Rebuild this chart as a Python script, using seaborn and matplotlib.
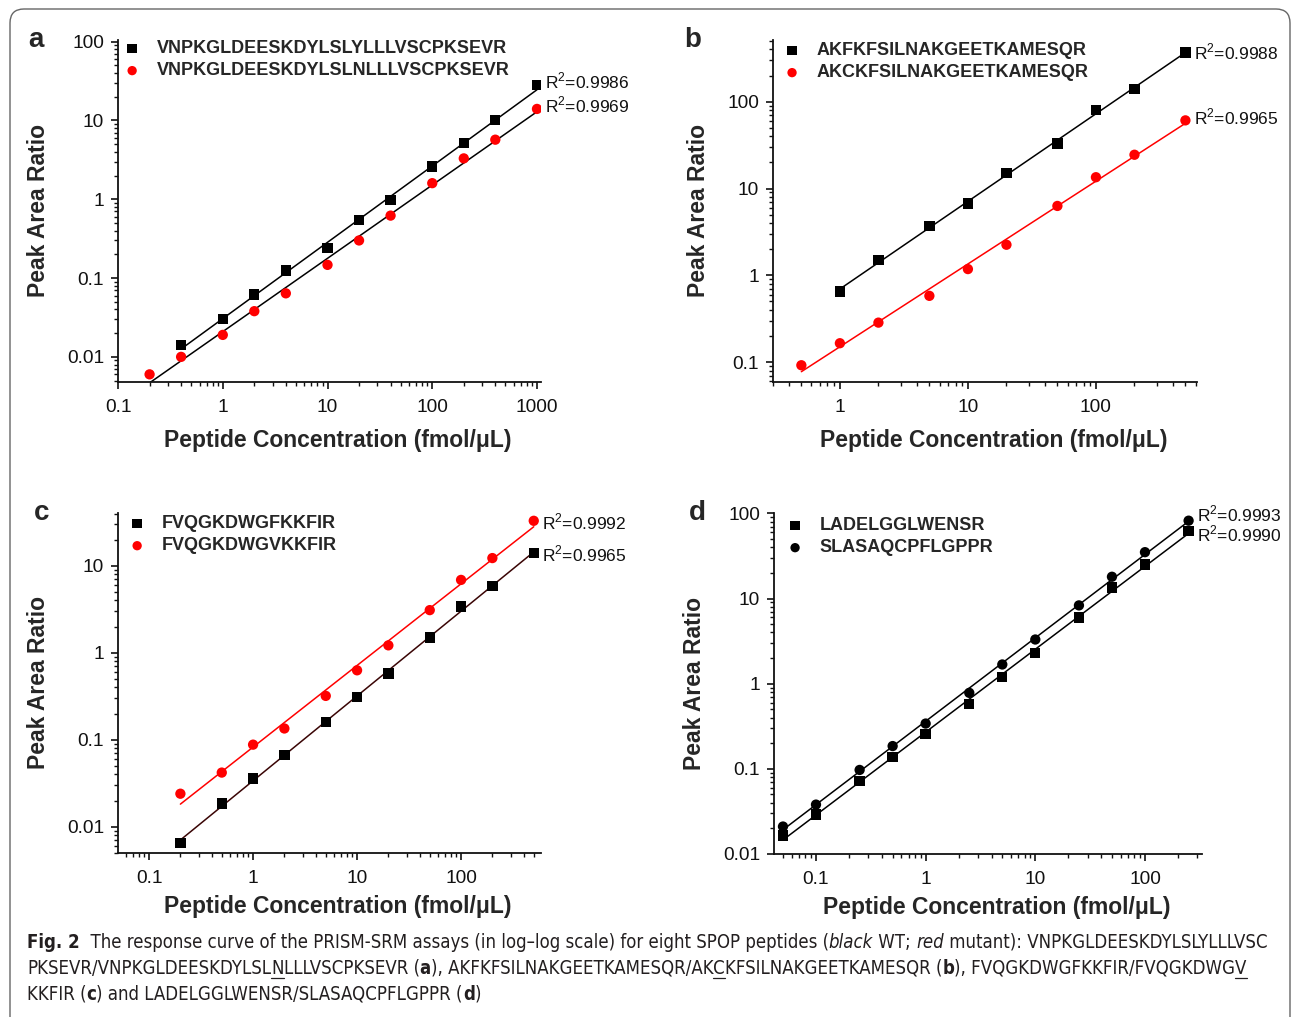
import numpy as np
import pandas as pd
import seaborn as sns
import matplotlib.pyplot as plt
from matplotlib import font_manager
from matplotlib.ticker import FuncFormatter, NullFormatter, LogLocator
from matplotlib.patches import FancyBboxPatch

# ---- data ----
# panel a
a_x_wt = [0.4, 1, 2, 4, 10, 20, 40, 100, 200, 400, 1000]
a_y_wt = [0.014, 0.030, 0.062, 0.125, 0.24, 0.54, 0.97, 2.6, 5.2, 10.1, 28]
a_x_mut = [0.2, 0.4, 1, 2, 4, 10, 20, 40, 100, 200, 400, 1000]
a_y_mut = [0.006, 0.010, 0.019, 0.038, 0.064, 0.147, 0.30, 0.62, 1.6, 3.3, 5.7, 14]
a_names = ["VNPKGLDEESKDYLSLYLLLVSCPKSEVR", "VNPKGLDEESKDYLSLNLLLVSCPKSEVR"]
a_r2 = ["0.9986", "0.9969"]

# panel b
b_x_wt = [1, 2, 5, 10, 20, 50, 100, 200, 500]
b_y_wt = [0.65, 1.5, 3.7, 6.7, 15, 33, 80, 140, 370]
b_x_mut = [0.5, 1, 2, 5, 10, 20, 50, 100, 200, 500]
b_y_mut = [0.092, 0.165, 0.285, 0.58, 1.18, 2.25, 6.3, 13.5, 24.5, 61]
b_names = ["AKFKFSILNAKGEETKAMESQR", "AKCKFSILNAKGEETKAMESQR"]
b_r2 = ["0.9988", "0.9965"]

# panel c
c_x = [0.2, 0.5, 1, 2, 5, 10, 20, 50, 100, 200, 500]
c_y_wt = [0.0065, 0.0185, 0.036, 0.067, 0.16, 0.31, 0.58, 1.5, 3.4, 5.9, 14]
c_y_mut = [0.024, 0.042, 0.088, 0.135, 0.32, 0.63, 1.22, 3.1, 6.9, 12.3, 33]
c_names = ["FVQGKDWGFKKFIR", "FVQGKDWGVKKFIR"]
c_r2 = ["0.9965", "0.9992"]

# panel d
d_x = [0.05, 0.1, 0.25, 0.5, 1, 2.5, 5, 10, 25, 50, 100, 250]
d_y_sq = [0.0165, 0.029, 0.072, 0.138, 0.255, 0.58, 1.2, 2.3, 6.0, 13.5, 25, 62]
d_y_ci = [0.021, 0.038, 0.097, 0.185, 0.34, 0.78, 1.68, 3.3, 8.3, 18, 35, 82]
d_names = ["LADELGGLWENSR", "SLASAQCPFLGPPR"]
d_r2 = ["0.9990", "0.9993"]

sns.set_theme(style="ticks")
plt.rcParams["font.family"] = ["Liberation Sans", "DejaVu Sans"]
plt.rcParams["mathtext.fontset"] = "custom"
plt.rcParams["mathtext.rm"] = "Liberation Sans"

fig = plt.figure(figsize=(12.93, 10.17), dpi=100)

RED = "#ff0000"


def fit_line(ax, x, y, color):
    # straight line in log-log space
    k, b = np.polyfit(np.log10(x), np.log10(y), 1)
    xs = np.array([min(x), max(x)])
    ax.plot(xs, 10 ** (k * np.log10(xs) + b), color=color, lw=1.1, zorder=2)


def points(ax, x, y, marker, color, label):
    df = pd.DataFrame({"x": x, "y": y})
    sns.scatterplot(data=df, x="x", y="y", marker=marker, color=color, s=55,
                    edgecolor="none", linewidth=0, label=label, ax=ax, zorder=3)


def r2(ax, x, y, val, dy=3):
    ax.annotate("R$^2$=" + val, (x, y), xytext=(6, dy), textcoords="offset points",
                va="center", ha="left", fontsize=12.5, color="#111111")


def style(ax, xlim, ylim, letter, lab_x, lab_y, let_x, leg_dx, leg_dy):
    ax.set_xscale("log")
    ax.set_yscale("log")
    ax.set_xlim(*xlim)
    ax.set_ylim(*ylim)
    fmt = FuncFormatter(lambda v, p: "{:g}".format(v))
    for axis in (ax.xaxis, ax.yaxis):
        axis.set_major_formatter(fmt)
        axis.set_minor_locator(LogLocator(base=10, subs=np.arange(2, 10)))
        axis.set_minor_formatter(NullFormatter())
    sns.despine(ax=ax)
    for s in ("left", "bottom"):
        ax.spines[s].set_linewidth(1.3)
        ax.spines[s].set_color("#111111")
    ax.tick_params(which="major", length=5, width=1.2, labelsize=13.8, pad=5, colors="#111111")
    ax.tick_params(axis="x", which="major", pad=7)
    ax.tick_params(which="minor", length=3, width=1.0, colors="#111111")
    ax.set_xlabel("Peptide Concentration (fmol/\u03bcL)", fontsize=16.5, fontweight="bold")
    ax.set_ylabel("Peak Area Ratio", fontsize=16.5, fontweight="bold")
    ax.xaxis.set_label_coords(0.52, lab_y)
    ax.yaxis.set_label_coords(lab_x, 0.5)
    ax.text(let_x, 1.0, letter, transform=ax.transAxes, fontsize=20,
            fontweight="bold", ha="center", va="center")
    bw, bh = ax.bbox.width, ax.bbox.height
    leg = ax.legend(loc="upper left", bbox_to_anchor=(leg_dx / bw, 1.03 + leg_dy / bh),
                    frameon=False, handletextpad=0.75, handlelength=1.2, labelspacing=0.3,
                    prop={"weight": "bold", "size": 13})
    for h in leg.legend_handles:
        h.set_sizes([45])


# ---- panel a ----
ax = fig.add_axes([0.0913, 0.6244, 0.3271, 0.3363])
points(ax, a_x_wt, a_y_wt, "s", "black", a_names[0])
points(ax, a_x_mut, a_y_mut, "o", RED, a_names[1])
fit_line(ax, a_x_wt, a_y_wt, "black")
fit_line(ax, a_x_mut, a_y_mut, "black")
r2(ax, a_x_wt[-1], a_y_wt[-1], a_r2[0])
r2(ax, a_x_mut[-1], a_y_mut[-1], a_r2[1])
style(ax, (0.1, 1092), (0.0048, 105), "a", -0.162, -0.137, -0.194, -13, 6)

# ---- panel b ----
ax = fig.add_axes([0.5978, 0.6244, 0.3279, 0.3363])
points(ax, b_x_wt, b_y_wt, "s", "black", b_names[0])
points(ax, b_x_mut, b_y_mut, "o", RED, b_names[1])
fit_line(ax, b_x_wt, b_y_wt, "black")
fit_line(ax, b_x_mut, b_y_mut, RED)
r2(ax, b_x_wt[-1], b_y_wt[-1], b_r2[0], dy=0)
r2(ax, b_x_mut[-1], b_y_mut[-1], b_r2[1], dy=2)
style(ax, (0.30, 615), (0.059, 515), "b", -0.149, -0.137, -0.189, -8, 4)

# ---- panel c ----
ax = fig.add_axes([0.0913, 0.1613, 0.3271, 0.3343])
points(ax, c_x, c_y_wt, "s", "black", c_names[0])
points(ax, c_x, c_y_mut, "o", RED, c_names[1])
fit_line(ax, c_x, c_y_wt, "#3a0505")
fit_line(ax, c_x, c_y_mut, RED)
r2(ax, c_x[-1], c_y_wt[-1], c_r2[0], dy=-1)
r2(ax, c_x[-1], c_y_mut[-1], c_r2[1], dy=-1)
style(ax, (0.0503, 587), (0.005, 40.6), "c", -0.162, -0.124, -0.18, -8, 4)

# ---- panel d ----
ax = fig.add_axes([0.5986, 0.1603, 0.3310, 0.3353])
points(ax, d_x, d_y_sq, "s", "black", d_names[0])
points(ax, d_x, d_y_ci, "o", "black", d_names[1])
fit_line(ax, d_x, d_y_sq, "black")
fit_line(ax, d_x, d_y_ci, "black")
r2(ax, d_x[-1], d_y_sq[-1], d_r2[0], dy=-2)
r2(ax, d_x[-1], d_y_ci[-1], d_r2[1], dy=5)
style(ax, (0.0414, 331), (0.01, 101), "d", -0.16, -0.124, -0.178, -6, 2)

# ---- rounded frame ----
frame = FancyBboxPatch((0.10, -0.2), 12.80, 10.28, boxstyle="round,pad=0,rounding_size=0.14",
                       transform=fig.dpi_scale_trans, fill=False, edgecolor="#666666",
                       linewidth=1.0, clip_on=False)
fig.patches.append(frame)

# ---- caption with rich text ----
cap_lines = [
    [("Fig. 2", "bold", "normal", False),
     ("  The response curve of the PRISM-SRM assays (in log\u2013log scale) for eight SPOP peptides (", "normal", "normal", False),
     ("black", "normal", "italic", False), (" WT; ", "normal", "normal", False),
     ("red", "normal", "italic", False),
     (" mutant): VNPKGLDEESKDYLSLYLLLVSC", "normal", "normal", False)],
    [("PKSEVR/VNPKGLDEESKDYLSL", "normal", "normal", False), ("N", "normal", "normal", True),
     ("LLLVSCPKSEVR (", "normal", "normal", False), ("a", "bold", "normal", False),
     ("), AKFKFSILNAKGEETKAMESQR/AK", "normal", "normal", False), ("C", "normal", "normal", True),
     ("KFSILNAKGEETKAMESQR (", "normal", "normal", False), ("b", "bold", "normal", False),
     ("), FVQGKDWGFKKFIR/FVQGKDWG", "normal", "normal", False), ("V", "normal", "normal", True)],
    [("KKFIR (", "normal", "normal", False), ("c", "bold", "normal", False),
     (") and LADELGGLWENSR/SLASAQCPFLGPPR (", "normal", "normal", False),
     ("d", "bold", "normal", False), (")", "normal", "normal", False)],
]

# pick a narrow face if one is installed
cap_font, cap_stretch = "Liberation Sans", "normal"
for fam, st in [("Liberation Sans Narrow", "normal"), ("DejaVu Sans", "condensed")]:
    try:
        path = font_manager.findfont(font_manager.FontProperties(family=fam, stretch=st),
                                     fallback_to_default=False)
        if fam == "Liberation Sans Narrow" or "Condensed" in path:
            cap_font, cap_stretch = fam, st
            break
    except Exception:
        pass

renderer = fig.canvas.get_renderer()
W, H = fig.bbox.width, fig.bbox.height


def line_width(parts, size):
    total = 0
    for txt, wt, st, ul in parts:
        t = fig.text(0, 0, txt, fontsize=size, fontweight=wt, fontstyle=st,
                     family=cap_font, fontstretch=cap_stretch)
        total += t.get_window_extent(renderer).width
        t.remove()
    return total


cap_size = 13.0 * 1240 / line_width(cap_lines[0], 13.0)
cap_y = [942, 968, 994]
for parts, ypx in zip(cap_lines, cap_y):
    xpx = 27
    for txt, wt, st, ul in parts:
        t = fig.text(xpx / W, 1 - ypx / H, txt, fontsize=cap_size, fontweight=wt, fontstyle=st,
                     family=cap_font, fontstretch=cap_stretch, color="#231f20",
                     va="center", ha="left")
        bb = t.get_window_extent(renderer)
        if ul:
            fig.add_artist(plt.Line2D([bb.x0 / W, bb.x1 / W], [1 - (ypx + 10) / H] * 2,
                                      color="#231f20", lw=0.9))
        xpx += bb.width

fig.savefig("out.png", dpi=100)
